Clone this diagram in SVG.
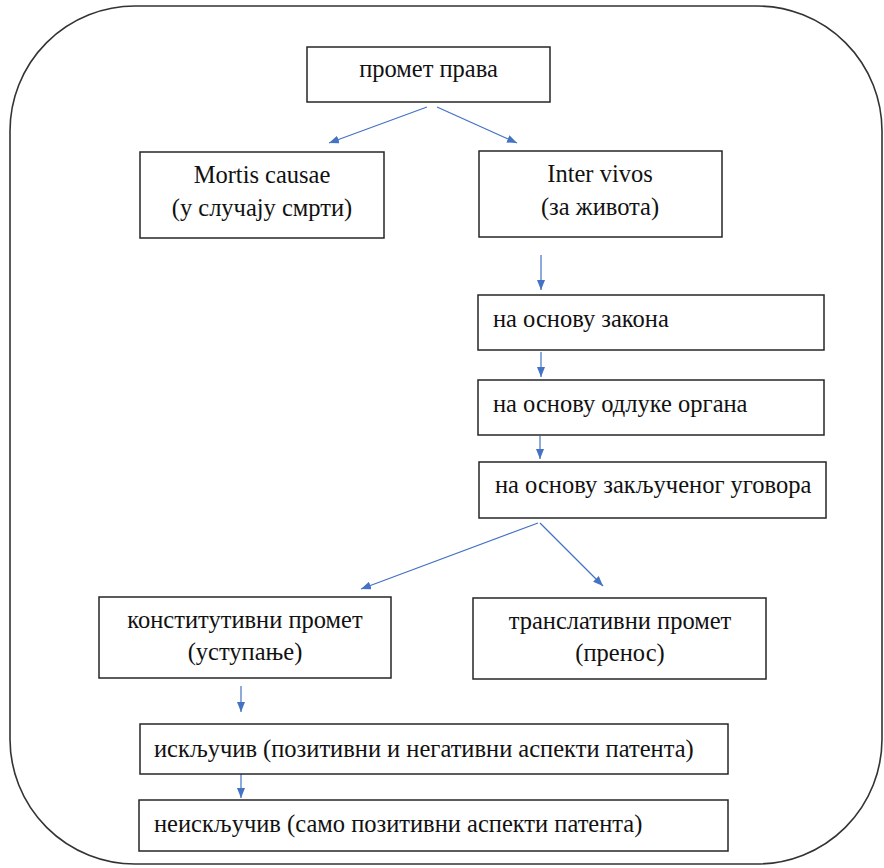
<svg xmlns="http://www.w3.org/2000/svg" width="884" height="868" viewBox="0 0 884 868">
<defs>
<marker id="ah" viewBox="0 0 10 8" refX="10" refY="4" markerWidth="10" markerHeight="8" markerUnits="userSpaceOnUse" orient="auto">
<path d="M0,0 L10,4 L0,8 z" fill="#4472C4"/>
</marker>
</defs>
<style>
.box{fill:#fff;stroke:#262626;stroke-width:1.5}
text{font-family:'Liberation Serif','Times New Roman',serif;font-size:24.5px;fill:#111}
.c{text-anchor:middle}
.a{stroke:#4472C4;stroke-width:1.2;fill:none;marker-end:url(#ah)}
</style>
<rect x="0" y="0" width="884" height="868" fill="#fff"/>
<rect id="frame" x="10" y="6" width="872" height="858" rx="125" ry="125" fill="none" stroke="#333" stroke-width="1.6"/>
<g id="connectors">
<line class="a" x1="427" y1="107" x2="329" y2="143"/>
<line class="a" x1="437" y1="107" x2="517" y2="143"/>
<line class="a" x1="541" y1="255" x2="541" y2="290"/>
<line class="a" x1="541" y1="352" x2="541" y2="377"/>
<line class="a" x1="540" y1="436" x2="540" y2="459"/>
<line class="a" x1="538" y1="523" x2="361" y2="589"/>
<line class="a" x1="540" y1="523" x2="603" y2="586"/>
<line class="a" x1="241" y1="686" x2="241" y2="712"/>
<line class="a" x1="241" y1="774" x2="241" y2="798"/>
</g>
<g id="promet">
<rect class="box" x="307" y="47" width="243" height="55"/>
<text class="c" x="428.5" y="77">промет права</text>
</g>
<g id="mortis">
<rect class="box" x="140" y="152" width="244" height="86"/>
<text class="c" x="262" y="183">Mortis causae</text>
<text class="c" x="262" y="216">(у случају смрти)</text>
</g>
<g id="inter">
<rect class="box" x="479" y="151" width="243" height="86"/>
<text class="c" x="600" y="182">Inter vivos</text>
<text class="c" x="600" y="215">(за живота)</text>
</g>
<g id="zakon">
<rect class="box" x="478" y="295" width="346" height="55"/>
<text x="493" y="327">на основу закона</text>
</g>
<g id="odluka">
<rect class="box" x="478" y="380" width="346" height="55"/>
<text x="493" y="412">на основу одлуке органа</text>
</g>
<g id="ugovor">
<rect class="box" x="479" y="462" width="347" height="56"/>
<text x="495" y="493">на основу закљученог уговора</text>
</g>
<g id="konst">
<rect class="box" x="99" y="597" width="292" height="81"/>
<text class="c" x="245" y="628">конститутивни промет</text>
<text class="c" x="245" y="660">(уступање)</text>
</g>
<g id="trans">
<rect class="box" x="473" y="598" width="293" height="81"/>
<text class="c" x="620" y="629">транслативни промет</text>
<text class="c" x="620" y="661">(пренос)</text>
</g>
<g id="iskljuciv">
<rect class="box" x="140" y="724" width="588" height="50"/>
<text x="154" y="757">искључив (позитивни и негативни аспекти патента)</text>
</g>
<g id="neiskljuciv">
<rect class="box" x="139" y="800" width="589" height="51"/>
<text x="154" y="832">неискључив (само позитивни аспекти патента)</text>
</g>
</svg>
